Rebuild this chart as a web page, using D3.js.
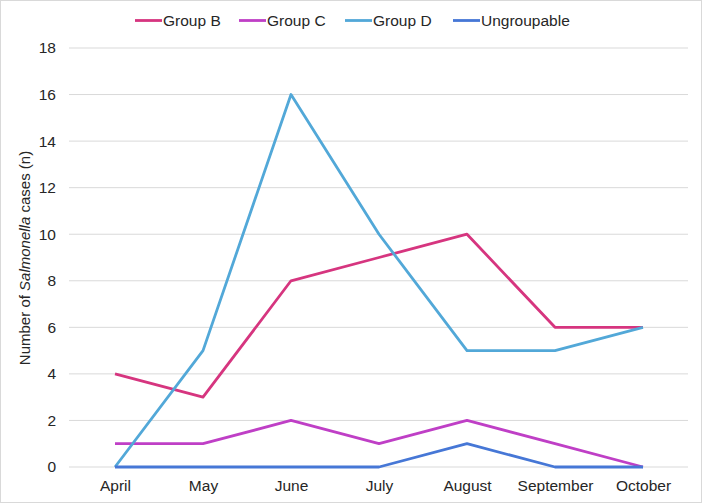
<!DOCTYPE html>
<html><head><meta charset="utf-8">
<script src="https://cdn.jsdelivr.net/npm/d3@7"></script>
<style>body{margin:0;background:#fff}svg{display:block;font-family:"Liberation Sans",Arial,sans-serif}</style>
</head><body>
<svg id="c" width="702" height="503"></svg>
<script>
const months = ["April","May","June","July","August","September","October"];
const groupB = [4,3,8,9,10,6,6];
const groupC = [1,1,2,1,2,1,0];
const groupD = [0,5,16,10,5,5,6];
const ungroupable = [0,0,0,0,1,0,0];
const seriesNames = ["Group B","Group C","Group D","Ungroupable"];
const seriesColors = ["#d6357f","#bf3fc6","#52a8d8","#4677d6"];
const yTicks = [0,2,4,6,8,10,12,14,16,18];

const series = [groupB, groupC, groupD, ungroupable].map((v,i)=>({name:seriesNames[i], color:seriesColors[i], values:v}));
const svg = d3.select("#c");
svg.append("rect").attr("x",0.5).attr("y",0.5).attr("width",701).attr("height",502).attr("fill","#fff").attr("stroke","#d9d9d9");

const x = d3.scalePoint().domain(months).range([115,643]);
const y = d3.scaleLinear().domain([0,18]).range([467,48]);
const FS = 15.5;

// gridlines
svg.append("g").selectAll("line").data(yTicks).join("line")
  .attr("x1",69).attr("x2",688).attr("y1",d=>y(d)).attr("y2",d=>y(d))
  .attr("stroke","#d9d9d9").attr("stroke-width",1);

// y axis labels
const ya = svg.append("g").attr("transform","translate(56,0)")
  .call(d3.axisLeft(y).tickValues(yTicks).tickSize(0).tickPadding(0));
ya.select(".domain").remove();
ya.selectAll("text").attr("font-size",FS).attr("fill","#262626").attr("font-family","Liberation Sans, Arial, sans-serif");

// x axis labels
const xa = svg.append("g").attr("transform","translate(0,480)")
  .call(d3.axisBottom(x).tickSize(0).tickPadding(0));
xa.select(".domain").remove();
xa.selectAll("text").attr("font-size",FS).attr("fill","#262626").attr("dy","0.71em").attr("font-family","Liberation Sans, Arial, sans-serif");

// y title
const yt = svg.append("text").attr("transform","translate(30,258) rotate(-90)")
  .attr("text-anchor","middle").attr("font-size",15).attr("fill","#262626");
yt.append("tspan").text("Number of ");
yt.append("tspan").attr("font-style","italic").text("Salmonella");
yt.append("tspan").text(" cases (n)");

// lines
const line = d3.line().x((d,i)=>x(months[i])).y(d=>y(d));
svg.append("g").selectAll("path").data(series).join("path")
  .attr("d",d=>line(d.values)).attr("fill","none")
  .attr("stroke",d=>d.color).attr("stroke-width",2.8).attr("stroke-linejoin","round");

// legend
const legX = [135,239,345,453];
const lg = svg.append("g").selectAll("g").data(series).join("g")
  .attr("transform",(d,i)=>`translate(${legX[i]},20.5)`);
lg.append("line").attr("x1",0).attr("x2",27).attr("y1",0).attr("y2",0)
  .attr("stroke",d=>d.color).attr("stroke-width",2.8);
lg.append("text").attr("x",28).attr("y",0).attr("dy","0.35em").attr("font-size",FS).attr("fill","#262626").text(d=>d.name);
</script>
</body></html>
